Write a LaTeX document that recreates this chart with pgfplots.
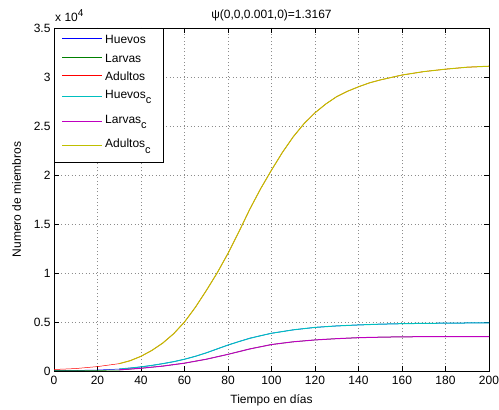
\documentclass[border=0pt]{standalone}
\usepackage{fontspec}
\setmainfont{Liberation Sans}
\usepackage{pgfplots}
\pgfplotsset{compat=1.18}
\usetikzlibrary{calc}
\definecolor{mblue}{rgb}{0,0,1}
\definecolor{mgreen}{rgb}{0,0.5,0}
\definecolor{mred}{rgb}{1,0,0}
\definecolor{mcyan}{rgb}{0,0.75,0.75}
\definecolor{mmag}{rgb}{0.75,0,0.75}
\definecolor{myel}{rgb}{0.75,0.75,0}
\newcommand{\sub}[1]{\raisebox{-5.5bp}{\fontsize{11bp}{12bp}\selectfont #1}}
\begin{document}
\begin{tikzpicture}[font=\fontsize{12bp}{14bp}\selectfont]
\begin{axis}[
  name=ax, at={(54bp,39bp)}, anchor=south west,
  scale only axis, width=435bp, height=343bp,
  xmin=0, xmax=200, ymin=0, ymax=3.5,
  xtick={0,20,40,60,80,100,120,140,160,180,200},
  ytick={0,0.5,1,1.5,2,2.5,3,3.5},
  yticklabels={0,0.5,1,1.5,2,2.5,3,3.5},
  /pgf/number format/assume math mode=true,
  tick align=inside, tick pos=both,
  major tick length=5bp,
  every tick/.style={black, line width=0.6bp},
  axis line style={black, line width=0.7bp},
  grid=major,
  grid style={gray!90, line width=0.6bp, dash pattern=on 1bp off 2.5bp},
  xlabel={Tiempo en días},
  ylabel={Numero de miembros},
  title={ψ(0,0,0.001,0)=1.3167},
  title style={yshift=-2bp},
  xticklabel style={yshift=-2bp},
  xlabel style={yshift=-3bp},
  ylabel style={yshift=6bp},
]
\addplot[mblue, line width=0.5bp] coordinates {(0,0.004) (10,0.006) (20,0.01) (30,0.02) (35,0.03) (40,0.042) (45,0.057) (50,0.075) (55,0.095) (60,0.12) (65,0.15) (70,0.185) (75,0.225) (80,0.265) (85,0.30) (90,0.335) (95,0.36) (100,0.385) (110,0.42) (120,0.445) (130,0.46) (140,0.47) (150,0.478) (160,0.483) (170,0.486) (180,0.488) (190,0.49) (200,0.491)};
\addplot[mgreen, line width=0.5bp] coordinates {(0,0.004) (10,0.005) (20,0.006) (30,0.01) (40,0.028) (50,0.05) (60,0.08) (70,0.12) (80,0.17) (90,0.225) (100,0.27) (110,0.298) (120,0.317) (130,0.33) (140,0.34) (150,0.345) (160,0.349) (180,0.351) (200,0.352)};
\addplot[mred, line width=0.5bp] coordinates {(0,0.015) (10,0.025) (20,0.045) (30,0.075) (35,0.105) (40,0.15) (45,0.21) (50,0.285) (55,0.38) (60,0.5) (65,0.65) (70,0.82) (75,1.0) (80,1.2) (85,1.42) (90,1.65) (95,1.86) (100,2.05) (105,2.23) (110,2.39) (115,2.525) (120,2.635) (125,2.725) (130,2.80) (135,2.855) (140,2.90) (145,2.94) (150,2.97) (160,3.02) (170,3.055) (180,3.08) (190,3.10) (200,3.11)};
\addplot[mcyan, line width=1bp] coordinates {(30,0.02) (35,0.03) (40,0.042) (45,0.057) (50,0.075) (55,0.095) (60,0.12) (65,0.15) (70,0.185) (75,0.225) (80,0.265) (85,0.30) (90,0.333) (95,0.36) (100,0.385) (110,0.42) (120,0.445) (130,0.46) (140,0.47) (150,0.478) (160,0.483) (170,0.486) (180,0.488) (190,0.49) (200,0.491)};
\addplot[mmag, line width=1bp] coordinates {(30,0.012) (40,0.028) (50,0.05) (60,0.08) (70,0.12) (80,0.17) (90,0.225) (100,0.27) (110,0.298) (120,0.317) (130,0.33) (140,0.34) (150,0.345) (160,0.349) (180,0.351) (200,0.352)};
\addplot[myel, line width=1bp] coordinates {(30,0.075) (35,0.105) (40,0.15) (45,0.21) (50,0.285) (55,0.38) (60,0.5) (65,0.65) (70,0.82) (75,1.0) (80,1.2) (85,1.42) (90,1.65) (95,1.86) (100,2.05) (105,2.23) (110,2.39) (115,2.525) (120,2.635) (125,2.725) (130,2.80) (135,2.855) (140,2.90) (145,2.94) (150,2.97) (160,3.02) (170,3.055) (180,3.08) (190,3.10) (200,3.11)};
\end{axis}
\node[anchor=base west, inner sep=0pt] at ($(ax.north west)+(1bp,6bp)$) {x 10\raisebox{5bp}{\fontsize{10bp}{11bp}\selectfont 4}};
% legend
\filldraw[fill=white, draw=black, line width=0.6bp] (54bp,248bp) rectangle (163bp,382bp);
\foreach \py/\col/\txt in {39/mblue/Huevos, 58/mgreen/Larvas, 76/mred/Adultos, 97/mcyan/Huevos\sub{c}, 122/mmag/Larvas\sub{c}, 146/myel/Adultos\sub{c}}{
  \draw[\col, line width=1bp] (62bp,{(410-\py)*1bp}) -- (102bp,{(410-\py)*1bp});
  \node[anchor=west, inner sep=0pt] at (105bp,{(410-\py)*1bp}) {\txt};
}
\pgfresetboundingbox
\path[use as bounding box] (0,0) rectangle (499bp,410bp);
\end{tikzpicture}
\end{document}
